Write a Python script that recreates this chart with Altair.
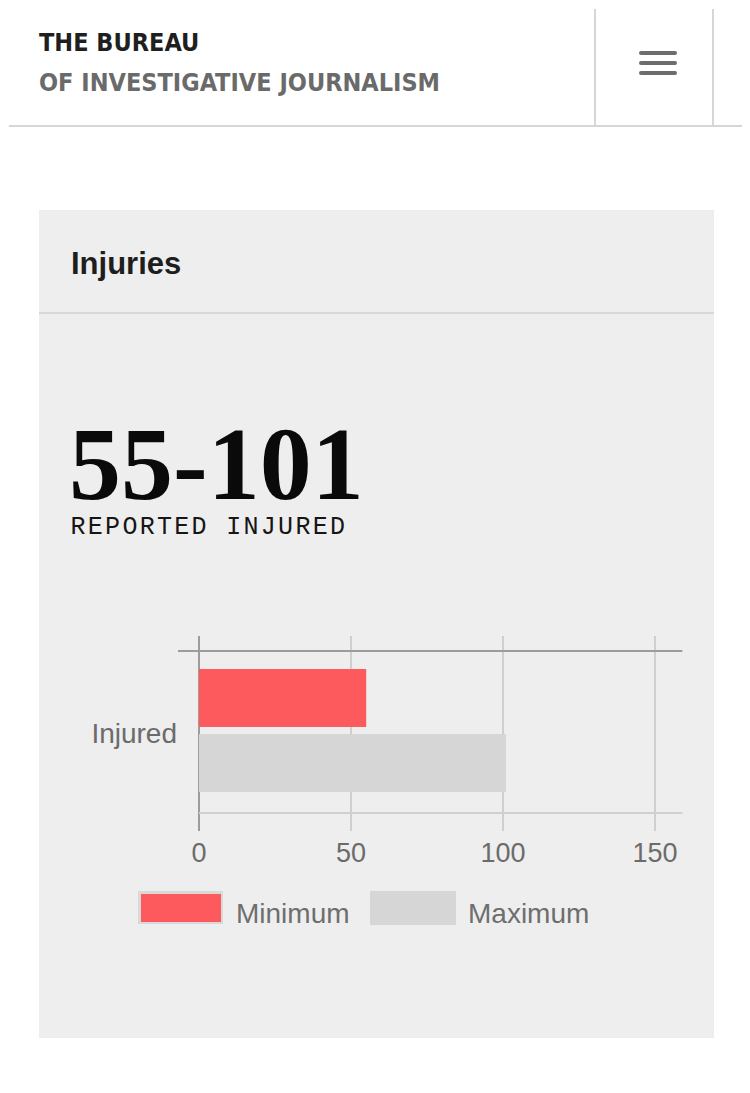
import altair as alt
import pandas as pd

# ---- data ----
categories = ["Injured"]
series_names = ["Minimum", "Maximum"]
series_values = [55, 101]
series_colors = ["#fd5a5e", "#d6d6d6"]
tick_values = [0, 50, 100, 150]
headline = "55-101"
subhead = "REPORTED INJURED"
card_title = "Injuries"
logo_line1 = "THE BUREAU"
logo_line2 = "OF INVESTIGATIVE JOURNALISM"

W, H = 734, 1077
M = 8  # page margin; page coordinate -> chart coordinate


def P(v):
    return v - M


bars_df = pd.DataFrame({
    "category": [categories[0]] * len(series_names),
    "series": series_names,
    "value": series_values,
})
ticks_df = pd.DataFrame({"tick": tick_values})
sub_df = pd.DataFrame({"ch": list(subhead), "i": list(range(len(subhead)))})
one = pd.DataFrame({"k": [0]})

x_scale = alt.Scale(domain=[0, 159], range=[P(198), P(198) + 159 * 3.04], nice=False, zero=True)
y_scale = alt.Scale(domain=categories, range=[P(668), P(791)], paddingInner=0, paddingOuter=0)
color_scale = alt.Scale(domain=series_names, range=series_colors)

SANS = "Liberation Sans, Arial, sans-serif"
NARROW = "DejaVu Sans Condensed, Liberation Sans, sans-serif"

base1 = alt.Chart(one)


def rect(x, x2, y, y2, color, **kw):
    return base1.mark_rect(color=color, **kw).encode(
        x=alt.value(x), x2=alt.value(x2), y=alt.value(y), y2=alt.value(y2))


def hrule(y, x, x2, color, w, **kw):
    return base1.mark_rule(color=color, strokeWidth=w, **kw).encode(
        x=alt.value(x), x2=alt.value(x2), y=alt.value(y))


def vrule(x, y, y2, color, w, **kw):
    return base1.mark_rule(color=color, strokeWidth=w, **kw).encode(
        x=alt.value(x), y=alt.value(y), y2=alt.value(y2))


def label(text, x, y, size, color, font=SANS, weight="normal", align="left"):
    return base1.mark_text(text=text, font=font, fontSize=size, fontWeight=weight,
                           color=color, align=align, baseline="alphabetic").encode(
        x=alt.value(x), y=alt.value(y))


# ---- page chrome ----
card = rect(P(38), P(713), P(209), P(1037), "#eeeeee")
header_line = hrule(P(125), 0, W, "#d6d6d6", 2)
vline1 = vrule(P(594), 0, P(124), "#d6d6d6", 2)
vline2 = vrule(P(712), 0, P(124), "#d6d6d6", 2)
burger = alt.layer(*[
    hrule(P(yy), P(640), P(674), "#6d6d6d", 4, strokeCap="round") for yy in (52, 62, 72)
])
logo1 = label(logo_line1, P(38), P(50), 25, "#1f1f1f", font=NARROW, weight="bold")
logo2 = label(logo_line2, P(38), P(90), 25, "#6a6a6a", font=NARROW, weight="bold")

title_sep = hrule(P(312), P(38), P(713), "#d8d8d8", 2)
title = label(card_title, P(70), P(273), 31, "#1e1e1e", weight="bold")
big = label(headline, P(68), P(498), 104, "#0a0a0a",
            font="Liberation Serif, DejaVu Serif, serif", weight="bold")

# monospaced sub-heading, letter-spaced character by character
sub = alt.Chart(sub_df).transform_calculate(
    px=f"{P(77)} + datum.i * 17.3"
).mark_text(font="Liberation Mono, DejaVu Sans Mono, monospace", fontSize=25,
            color="#161616", align="center", baseline="alphabetic").encode(
    x=alt.X("px:Q", scale=None, axis=None),
    y=alt.value(P(533)),
    text="ch:N")

# ---- chart frame / gridlines ----
top_line = hrule(P(650), P(177), P(198) + 159 * 3.04, "#9c9c9c", 2)
bottom_line = hrule(P(812), P(198), P(198) + 159 * 3.04, "#d0d0d0", 2)

tick_base = alt.Chart(ticks_df)
grid = tick_base.transform_filter("datum.tick > 0").mark_rule(
    color="#cfcfcf", strokeWidth=2).encode(
    x=alt.X("tick:Q", scale=x_scale, axis=None),
    y=alt.value(P(635)), y2=alt.value(P(830)))
zero_line = tick_base.transform_filter("datum.tick == 0").mark_rule(
    color="#9c9c9c", strokeWidth=2).encode(
    x=alt.X("tick:Q", scale=x_scale, axis=None),
    y=alt.value(P(635)), y2=alt.value(P(830)))
tick_labels = tick_base.mark_text(
    font=SANS, fontSize=27, color="#6b6b6b", align="center", baseline="alphabetic").encode(
    x=alt.X("tick:Q", scale=x_scale, axis=None),
    y=alt.value(P(861)),
    text=alt.Text("tick:Q", format="d"))

# ---- bars ----
bars = alt.Chart(bars_df).mark_bar().encode(
    x=alt.X("value:Q", scale=x_scale, axis=None),
    y=alt.Y("category:N", scale=y_scale, axis=None),
    yOffset=alt.YOffset("series:N", sort=series_names,
                        scale=alt.Scale(paddingInner=0.11, paddingOuter=0)),
    color=alt.Color("series:N", scale=color_scale, legend=None),
)

cat_label = alt.Chart(pd.DataFrame({"category": categories})).mark_text(
    font=SANS, fontSize=28, color="#6b6b6b", align="right", baseline="middle", dy=4).encode(
    y=alt.Y("category:N", scale=y_scale, axis=None),
    x=alt.value(P(176)),
    text="category:N")

# ---- legend ----
leg_df = pd.DataFrame({"series": series_names})


def swatch(name, x, x2, y, y2):
    return alt.Chart(leg_df).transform_filter(
        alt.datum.series == name).mark_rect().encode(
        x=alt.value(x), x2=alt.value(x2), y=alt.value(y), y2=alt.value(y2),
        color=alt.Color("series:N", scale=color_scale, legend=None))


leg_border = rect(P(137), P(222), P(890), P(923), "#d9d9d9")
sw_min = swatch(series_names[0], P(140), P(220), P(893), P(921))
sw_max = swatch(series_names[1], P(369), P(455), P(890), P(924))
lab_min = label(series_names[0], P(235), P(922), 28, "#6e6e6e")
lab_max = label(series_names[1], P(467), P(922), 28, "#6e6e6e")

chart = alt.layer(
    card, header_line, vline1, vline2, burger, logo1, logo2,
    title_sep, title, big, sub,
    grid, zero_line, top_line, bottom_line,
    bars, cat_label, tick_labels,
    leg_border, sw_min, sw_max, lab_min, lab_max,
).properties(
    width=W, height=H, padding=0,
    autosize=alt.AutoSizeParams(type="fit", contains="padding"),
).configure(background="white").configure_view(strokeWidth=0)

chart.save("out.html", embed_options={"renderer": "svg", "actions": False})
